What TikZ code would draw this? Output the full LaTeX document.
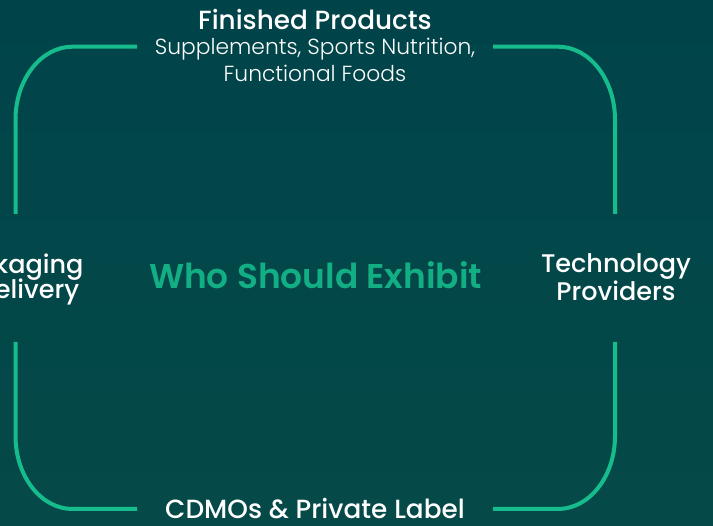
\documentclass[tikz,border=0pt]{standalone}
\usepackage{fontspec}
\setmainfont{Poppins}
\newfontfamily\popmed{Poppins Medium}
\newfontfamily\poplight{Poppins Light}
\newfontfamily\popsemi{Poppins SemiBold}
\definecolor{bgtop}{HTML}{00444A}
\definecolor{bgbot}{HTML}{054A48}
\definecolor{frame}{HTML}{16BC8C}
\definecolor{title}{HTML}{12AE84}

\begin{document}
\begin{tikzpicture}[x=1pt,y=1pt]
	\useasboundingbox (0,0) rectangle (713,526);
	\shade[top color=bgtop,bottom color=bgbot] (0,0) rectangle (713,526);
	\tikzstyle{every node}=[inner sep=0pt,anchor=base,text=white];
	\tikzstyle{head}=[font=\popmed\fontsize{26.3}{30}\selectfont];
	\tikzstyle{sub}=[font=\poplight\fontsize{21.8}{26}\selectfont];
	\tikzstyle{side}=[font=\popmed\fontsize{25.5}{30}\selectfont];
	\tikzstyle{edge}=[draw=frame,line width=4pt];
	% labels
	\path (315,496.7) node[head] (fin) {Finished Products};
	\path (315,471) node[sub] (sup) {Supplements, Sports Nutrition,};
	\path (315,444) node[sub] (fun) {Functional Foods};
	\path (315.5,237.7) node[font=\popsemi\fontsize{34.4}{40}\selectfont,text=title] (who) {Who Should Exhibit};
	\path (616,253) node[side] (tech) {Technology};
	\path (616,225) node[side] (prov) {Providers};
	\path (15,252) node[side] (pack) {Packaging};
	\path (15,227) node[side] (deli) {\& Delivery};
	\path (315,7) node[head] (cdmo) {CDMOs \& Private Label};
	% ends of the frame
	\coordinate (tl) at (137,479.3);
	\coordinate (tr) at (493,479.3);
	\coordinate (bl) at (137,17);
	\coordinate (br) at (493,17);
	\coordinate (lt) at (15.5,312);
	\coordinate (lb) at (15.5,184);
	\coordinate (rt) at (615,312);
	\coordinate (rb) at (615,184);
	\draw[edge] (tl) -- (72.5,479.3) arc[start angle=90,end angle=180,x radius=57,y radius=73] -- (lt);
	\draw[edge] (lb) -- (15.5,90) arc[start angle=180,end angle=270,x radius=57,y radius=73] -- (bl);
	\draw[edge] (tr) -- (558,479.3) arc[start angle=90,end angle=0,x radius=57,y radius=73] -- (rt);
	\draw[edge] (rb) -- (615,90) arc[start angle=0,end angle=-90,x radius=57,y radius=73] -- (br);
\end{tikzpicture}
\end{document}
